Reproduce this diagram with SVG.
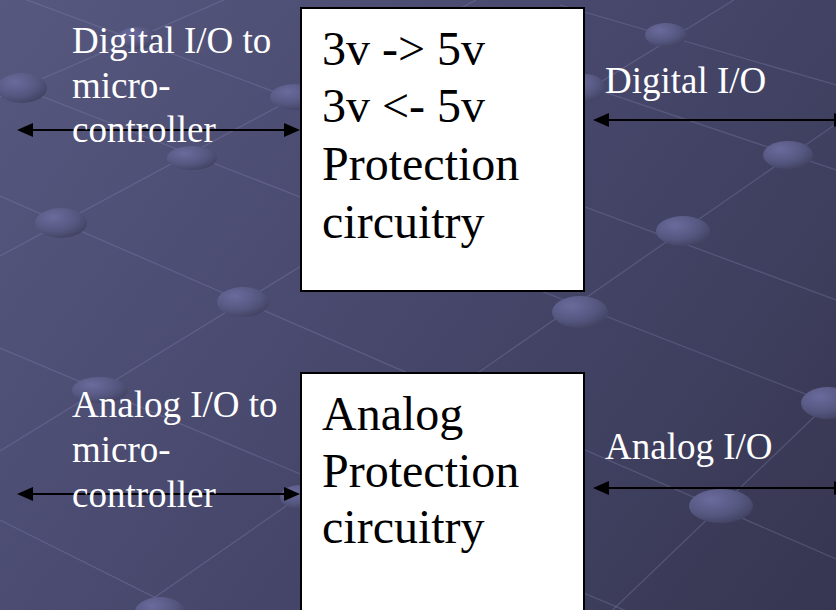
<svg xmlns="http://www.w3.org/2000/svg" width="836" height="610" viewBox="0 0 836 610">
  <defs>
    <linearGradient id="bg" x1="0" y1="0" x2="836" y2="610" gradientUnits="userSpaceOnUse">
      <stop offset="0" stop-color="#57587f"/>
      <stop offset="0.5" stop-color="#47476c"/>
      <stop offset="1" stop-color="#363651"/>
    </linearGradient>
    <radialGradient id="ball" cx="0.35" cy="0.3" r="0.8">
      <stop offset="0" stop-color="#6a6b9c"/>
      <stop offset="0.6" stop-color="#55567f"/>
      <stop offset="1" stop-color="#3e3e5c"/>
    </radialGradient>
    <style>
      .grid { stroke: #8a8ab8; stroke-opacity: 0.3; stroke-width: 1.3; fill: none; }
      .dot { fill: url(#ball); }
      .box { fill: #ffffff; stroke: #000; stroke-width: 2; }
      .inner { font-family: 'Liberation Serif', 'DejaVu Serif', serif; font-size: 48px; fill: #000; }
      .label { font-family: 'Liberation Serif', 'DejaVu Serif', serif; font-size: 37px; fill: #ffffff; }
      .link { stroke: #000; stroke-width: 2; fill: none; }
      .tip { fill: #000; }
    </style>
  </defs>

  <!-- slide background: gradient with a lattice of lines and beads -->
  <rect x="0" y="0" width="836" height="610" fill="url(#bg)"/>
  <g id="lattice">
    <line class="grid" x1="0" y1="-10" x2="836" y2="300"/>
    <line class="grid" x1="0" y1="80" x2="836" y2="406"/>
    <line class="grid" x1="0" y1="196" x2="836" y2="559"/>
    <line class="grid" x1="0" y1="348" x2="836" y2="699"/>
    <line class="grid" x1="0" y1="520" x2="300" y2="670"/>
    <line class="grid" x1="560" y1="5" x2="836" y2="85"/>
    <line class="grid" x1="420" y1="30" x2="836" y2="170"/>
    <line class="grid" x1="0" y1="97" x2="224" y2="0"/>
    <line class="grid" x1="0" y1="256" x2="476" y2="0"/>
    <line class="grid" x1="0" y1="451" x2="734" y2="0"/>
    <line class="grid" x1="40" y1="677" x2="836" y2="124"/>
    <line class="grid" x1="600" y1="622" x2="836" y2="396"/>
  </g>
  <g id="beads">
    <ellipse class="dot" cx="137" cy="38" rx="20" ry="11"/>
    <ellipse class="dot" cx="22" cy="88" rx="25" ry="15"/>
    <ellipse class="dot" cx="295" cy="97" rx="25" ry="13"/>
    <ellipse class="dot" cx="192" cy="158" rx="25" ry="12"/>
    <ellipse class="dot" cx="61" cy="223" rx="26" ry="15"/>
    <ellipse class="dot" cx="243" cy="302" rx="26" ry="15"/>
    <ellipse class="dot" cx="100" cy="390" rx="28" ry="13"/>
    <ellipse class="dot" cx="300" cy="497" rx="20" ry="12"/>
    <ellipse class="dot" cx="160" cy="612" rx="25" ry="15"/>
    <ellipse class="dot" cx="666" cy="35" rx="21" ry="12"/>
    <ellipse class="dot" cx="585" cy="88" rx="20" ry="14"/>
    <ellipse class="dot" cx="788" cy="155" rx="25" ry="14"/>
    <ellipse class="dot" cx="683" cy="231" rx="27" ry="15"/>
    <ellipse class="dot" cx="580" cy="312" rx="28" ry="16"/>
    <ellipse class="dot" cx="828" cy="403" rx="27" ry="16"/>
    <ellipse class="dot" cx="721" cy="506" rx="32" ry="17"/>
  </g>

  <!-- connectors: double-headed arrows -->
  <g id="connectors">
    <line class="link" x1="30" y1="130" x2="288" y2="130"/>
    <polygon class="tip" points="17,130 33,123 33,137"/>
    <polygon class="tip" points="300,130 284,123 284,137"/>
    <line class="link" x1="606" y1="120" x2="836" y2="120"/>
    <polygon class="tip" points="593,120 609,113 609,127"/>
    <polygon class="tip" points="850,120 834,113 834,127"/>
    <line class="link" x1="30" y1="494" x2="288" y2="494"/>
    <polygon class="tip" points="17,494 33,487 33,501"/>
    <polygon class="tip" points="300,494 284,487 284,501"/>
    <line class="link" x1="606" y1="488" x2="836" y2="488"/>
    <polygon class="tip" points="593,488 609,481 609,495"/>
    <polygon class="tip" points="850,488 834,481 834,495"/>
  </g>

  <!-- digital level shifting block -->
  <g id="digital-box">
    <rect class="box" x="301" y="8" width="283" height="283"/>
    <text class="inner" x="322" y="65">3v -&gt; 5v</text>
    <text class="inner" x="322" y="122">3v &lt;- 5v</text>
    <text class="inner" x="322" y="180">Protection</text>
    <text class="inner" x="322" y="238">circuitry</text>
  </g>

  <!-- analog protection block -->
  <g id="analog-box">
    <rect class="box" x="301" y="373" width="283" height="260"/>
    <text class="inner" x="322" y="430">Analog</text>
    <text class="inner" x="322" y="487">Protection</text>
    <text class="inner" x="322" y="543">circuitry</text>
  </g>

  <g id="digital-mcu-label">
    <text class="label" x="72" y="53">Digital I/O to</text>
    <text class="label" x="72" y="98">micro-</text>
    <text class="label" x="72" y="142">controller</text>
  </g>
  <g id="digital-io-label">
    <text class="label" x="605" y="93">Digital I/O</text>
  </g>
  <g id="analog-mcu-label">
    <text class="label" x="72" y="417">Analog I/O to</text>
    <text class="label" x="72" y="462">micro-</text>
    <text class="label" x="72" y="507">controller</text>
  </g>
  <g id="analog-io-label">
    <text class="label" x="605" y="459">Analog I/O</text>
  </g>
</svg>
